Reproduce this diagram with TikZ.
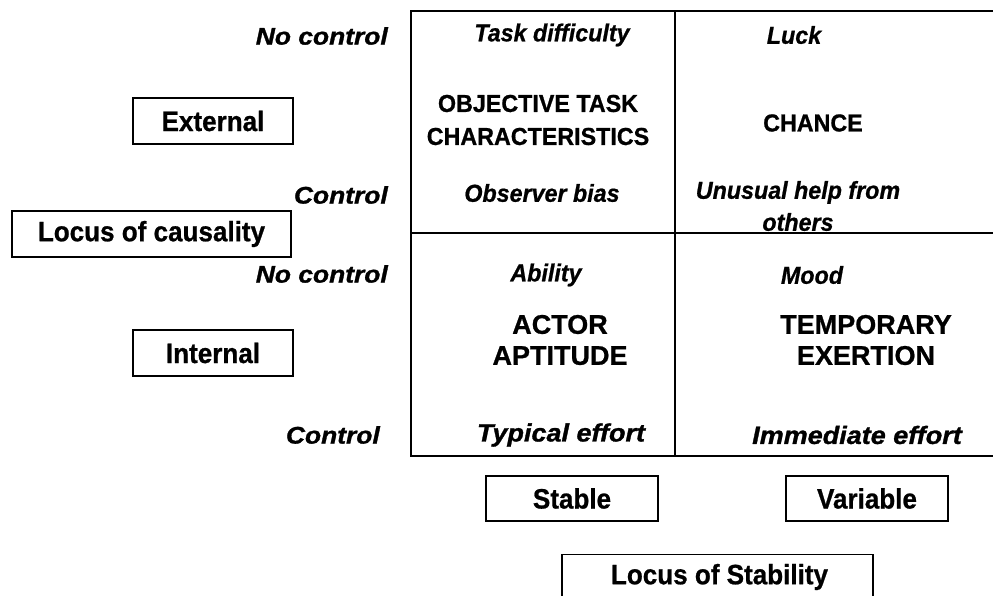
\documentclass[tikz,border=0pt]{standalone}
\usepackage{fontspec}
\setmainfont{Liberation Sans}
% width-adjusted cuts of the same family
\newfontfamily\sidefont[FakeStretch=1.1,FakeBold=1.2]{Liberation Sans}
\newfontfamily\efffont[FakeStretch=1.08,FakeBold=1.2]{Liberation Sans}
\newfontfamily\cellfont[FakeStretch=0.95,FakeBold=0.8]{Liberation Sans}
\newfontfamily\tagfont[FakeStretch=0.93,FakeBold=0.8]{Liberation Sans}
\newfontfamily\capfont[FakeBold=0.8]{Liberation Sans}
\begin{document}
\begin{tikzpicture}[x=1pt,y=-1pt,
  lbl/.style={font=\cellfont\bfseries\itshape\fontsize{24.5}{32}\selectfont, inner sep=0pt, align=center},
  side/.style={font=\sidefont\bfseries\itshape\fontsize{24}{32}\selectfont, inner sep=0pt, anchor=east},
  biglbl/.style={font=\efffont\bfseries\itshape\fontsize{25}{32}\selectfont, inner sep=0pt},
  caps/.style={font=\cellfont\bfseries\fontsize{24.5}{33}\selectfont, align=center, inner sep=0pt},
  bigcaps/.style={font=\capfont\bfseries\fontsize{27}{31}\selectfont, align=center, inner sep=0pt},
  tag/.style={draw, line width=1.3pt, font=\tagfont\bfseries\fontsize{28}{30}\selectfont, inner sep=0pt},
  grid/.style={line width=1.3pt}]
\useasboundingbox (0,0) rectangle (993,596);
\begin{scope}
\clip (0,0) rectangle (993,596);
% two-by-two table, open on the right
\coordinate (tl) at (411,11);
\coordinate (tr) at (1000,11);
\coordinate (ml) at (411,233);
\coordinate (mr) at (1000,233);
\coordinate (bl) at (411,456);
\coordinate (br) at (1000,456);
\coordinate (mt) at (675,11);
\coordinate (mb) at (675,456);
\draw[grid] (tr) -- (tl) -- (bl) -- (br);
\draw[grid] (ml) -- (mr);
\draw[grid] (mt) -- (mb);

% row labels
\node[side] (nc1) at (388,36) {No control};
\node[side] (c1) at (388,195) {Control};
\node[side] (nc2) at (388,274) {No control};
\node[side] (c2) at (380,435) {Control};

% boxes on the left
\node[tag, minimum width=160pt, minimum height=46pt] (ext) at (213,121) {External};
\node[tag, minimum width=279pt, minimum height=46pt] (loc) at (151.5,234) {Locus of causality};
\node[tag, minimum width=160pt, minimum height=46pt] (int) at (213,353) {Internal};

% cells
\node[lbl] (task) at (552,35) {Task difficulty};
\node[caps] (otc) at (538,120) {OBJECTIVE TASK\\CHARACTERISTICS};
\node[lbl] (obs) at (542,193) {Observer bias};

\node[lbl] (luck) at (794,35) {Luck};
\node[caps] (chance) at (813,123) {CHANCE};
\node[lbl] (help) at (798,206) {Unusual help from\\others};

\node[lbl] (abil) at (546,275) {Ability};
\node[bigcaps] (actor) at (560,340) {ACTOR\\APTITUDE};
\node[biglbl] (typ) at (561,435) {Typical effort};

\node[lbl] (mood) at (812,275) {Mood};
\node[bigcaps] (temp) at (866,340) {TEMPORARY\\EXERTION};
\node[biglbl] (imm) at (857,435) {Immediate effort};

% boxes below
\node[tag, minimum width=172pt, minimum height=45pt] (stab) at (572,498.5) {Stable};
\node[tag, minimum width=162pt, minimum height=45pt] (var) at (867,498.5) {Variable};
\node[tag, minimum width=311pt, minimum height=50pt, anchor=north] (ls) at (717.5,554) {};
\node[font=\tagfont\bfseries\fontsize{28}{30}\selectfont, inner sep=0pt] (lstxt) at (719.5,577) {Locus of Stability};
\end{scope}
\end{tikzpicture}
\end{document}
